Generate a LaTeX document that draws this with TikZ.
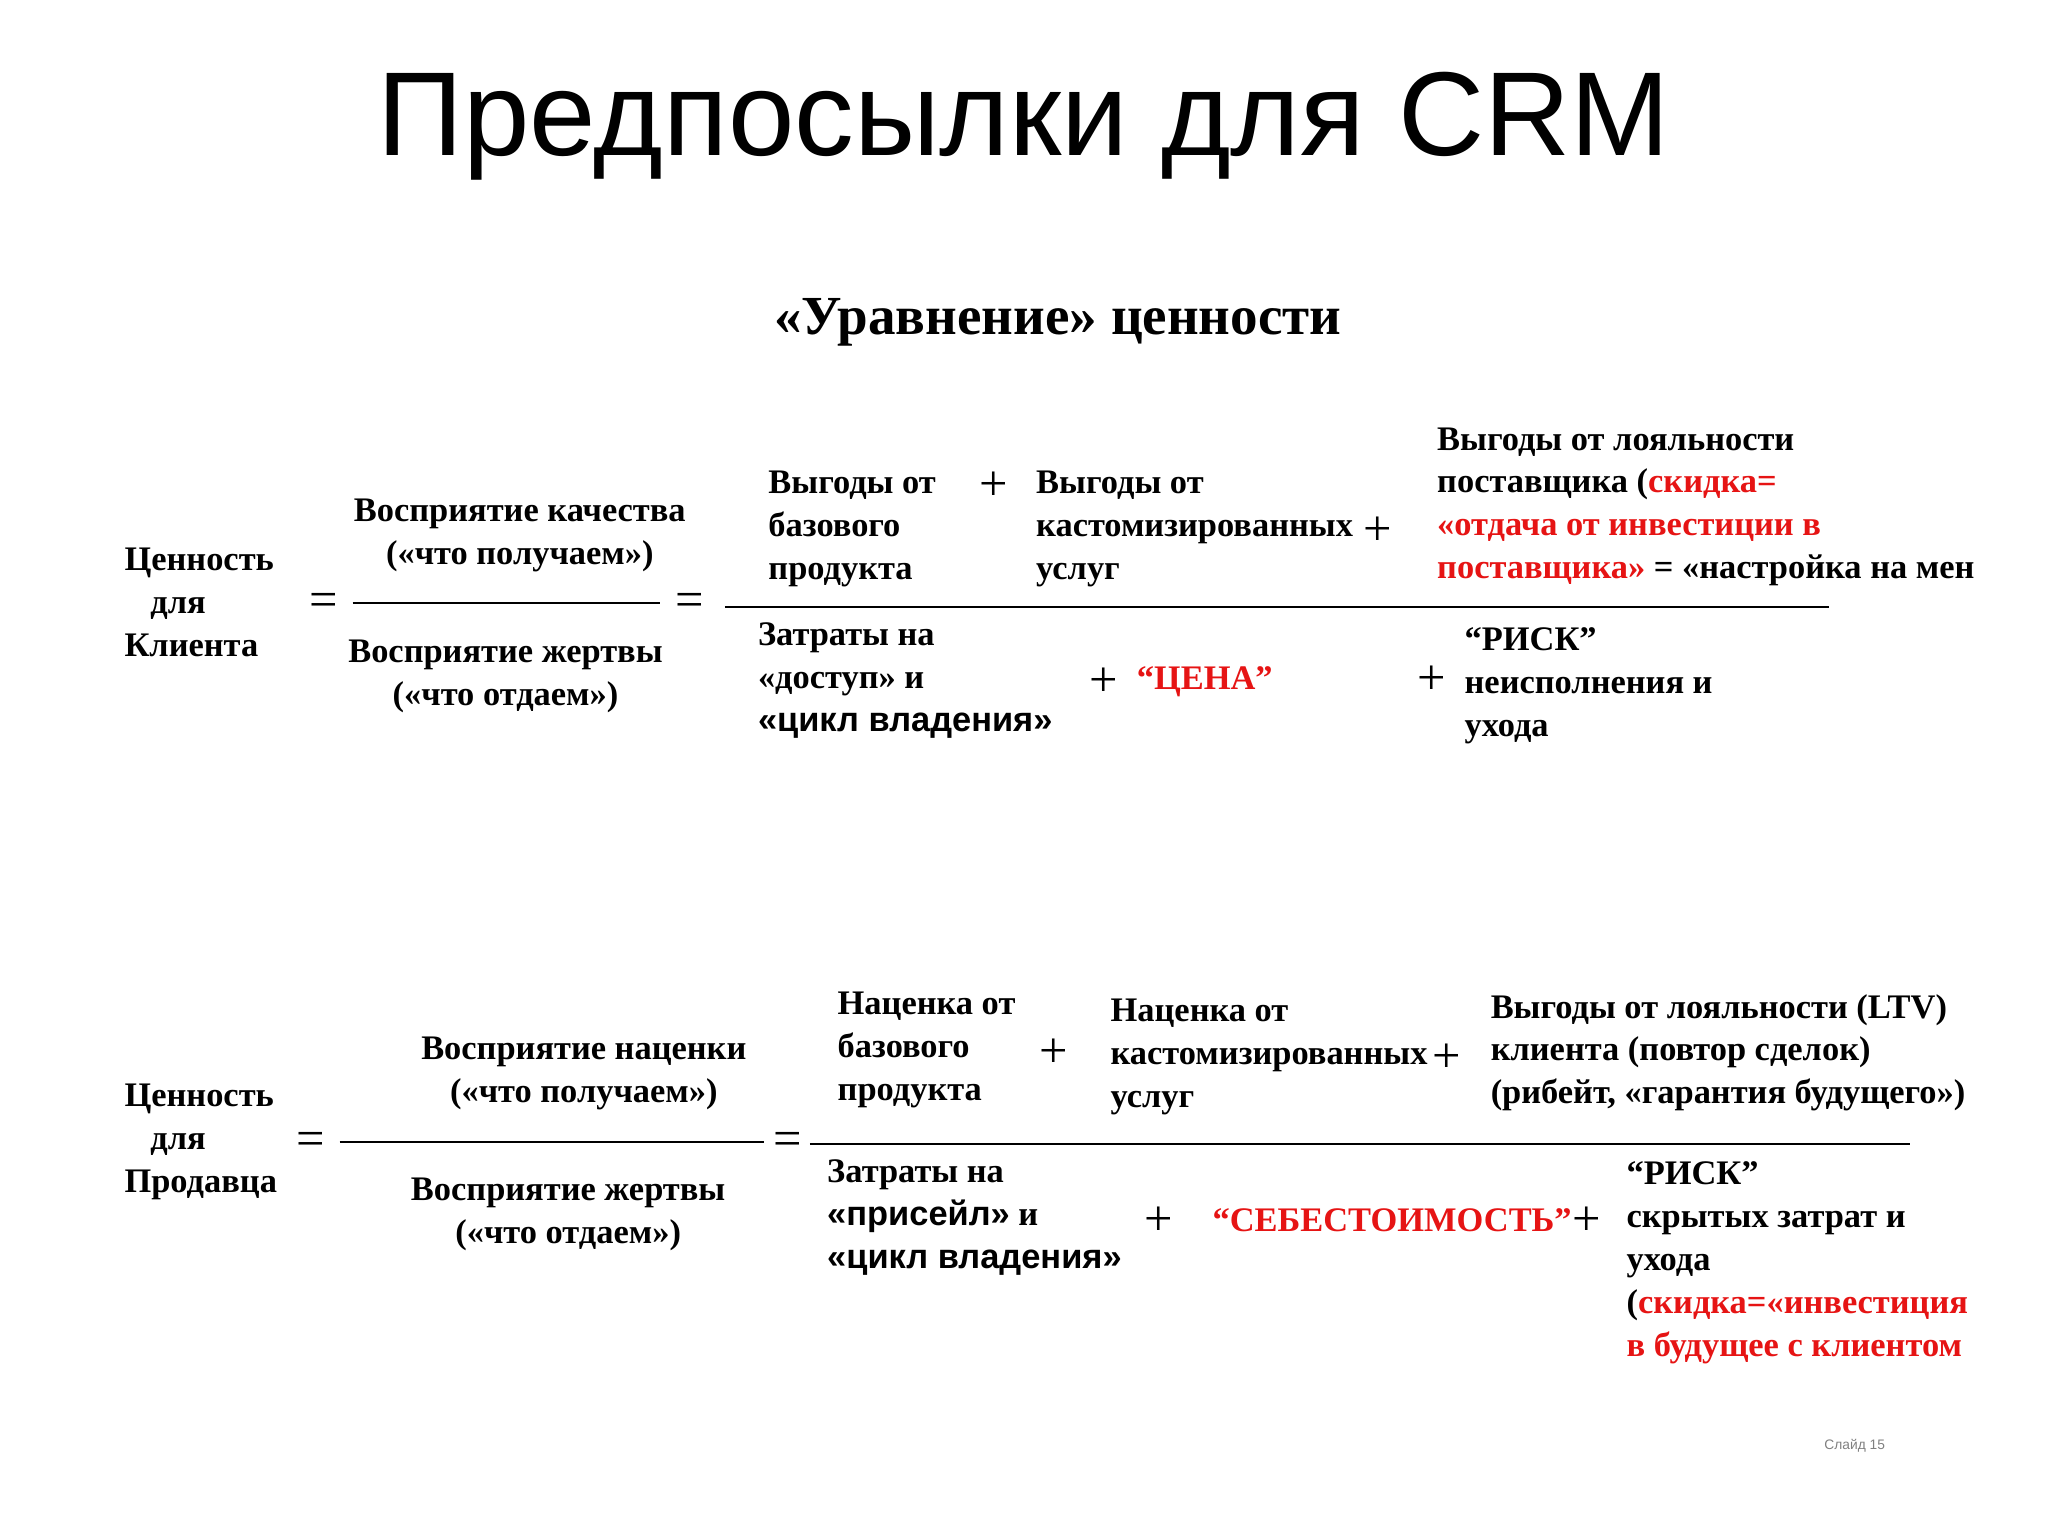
\documentclass[tikz,border=0pt]{standalone}
\usepackage{fontspec}
\setmainfont{Liberation Serif}
\newfontfamily\hsans{Liberation Sans}
\definecolor{rd}{RGB}{230,20,20}
\begin{document}
\begin{tikzpicture}[x=0.02cm,y=-0.02cm,
 txt/.style={inner sep=0pt,align=left,font=\bfseries\fontsize{15}{18.7}\selectfont},
 ctr/.style={inner sep=0pt,align=center,font=\bfseries\fontsize{15}{18.7}\selectfont},
 op/.style={inner sep=0pt,font=\fontsize{22}{22}\selectfont},
 bar/.style={line width=0.9pt}]
\useasboundingbox[fill=white] (0,0) rectangle (1568,1176);
\node[inner sep=0pt,font=\hsans\fontsize{52}{52}\selectfont] (title) at (784,97) {Предпосылки для CRM};
\node[inner sep=0pt,font=\bfseries\fontsize{24}{28}\selectfont] (sub) at (810,247) {«Уравнение» ценности};
% top equation
\node[txt,anchor=west] (v1) at (95,461) {Ценность\\\ \ \ для\\Клиента};
\node[op] (e1) at (248,463) {=};
\node[ctr] (n1) at (398,410) {Восприятие качества\\(«что получаем»)};
\node[ctr] (d1) at (387,518) {Восприятие жертвы\\(«что отдаем»)};
\coordinate (l1a) at (270,462); \coordinate (l1b) at (505,462);
\draw[bar] (l1a) -- (l1b);
\node[op] (e2) at (528,463) {=};
\coordinate (l2a) at (555,465); \coordinate (l2b) at (1400,465);
\draw[bar] (l2a) -- (l2b);
\node[txt,anchor=west] (a1) at (588,405) {Выгоды от\\базового\\продукта};
\node[op] (p1) at (761,372) {+};
\node[txt,anchor=west] (a2) at (793,405) {Выгоды от\\кастомизированных\\услуг};
\node[op] (p2) at (1055,407) {+};
\node[txt,anchor=west] (a3) at (1100,388) {Выгоды от лояльности\\поставщика (\textcolor{rd}{скидка=}\\\textcolor{rd}{«отдача от инвестиции в}\\\textcolor{rd}{поставщика»} = «настройка на мен};
\node[txt,anchor=west] (b1) at (580,521) {Затраты на\\«доступ» и\\{\hsans«цикл владения»}};
\node[op] (p3) at (845,522) {+};
\node[txt,anchor=west,text=rd] (b2) at (870,522) {“ЦЕНА”};
\node[op] (p4) at (1096,521) {+};
\node[txt,anchor=west] (b3) at (1121,525) {“РИСК”\\неисполнения и\\ухода};
% bottom equation
\node[txt,anchor=west] (v2) at (95,874) {Ценность\\\ \ \ для\\Продавца};
\node[op] (e3) at (238,876) {=};
\node[ctr] (n2) at (447,822) {Восприятие наценки\\(«что получаем»)};
\node[ctr] (d2) at (435,930) {Восприятие жертвы\\(«что отдаем»)};
\coordinate (l3a) at (260,874); \coordinate (l3b) at (585,874);
\draw[bar] (l3a) -- (l3b);
\node[op] (e4) at (603,876) {=};
\coordinate (l4a) at (620,876); \coordinate (l4b) at (1462,876);
\draw[bar] (l4a) -- (l4b);
\node[txt,anchor=west] (c1) at (641,804) {Наценка от\\базового\\продукта};
\node[op] (p5) at (807,806) {+};
\node[txt,anchor=west] (c2) at (850,809) {Наценка от\\кастомизированных\\услуг};
\node[op] (p6) at (1108,810) {+};
\node[txt,anchor=west] (c3) at (1141,806) {Выгоды от лояльности (LTV)\\клиента (повтор сделок)\\(рибейт, «гарантия будущего»)};
\node[txt,anchor=west] (f1) at (633,932) {Затраты на\\{\hsans«присейл»} и\\{\hsans«цикл владения»}};
\node[op] (p7) at (887,935) {+};
\node[txt,anchor=west,text=rd] (f2) at (928,934) {“СЕБЕСТОИМОСТЬ”};
\node[op] (p8) at (1215,935) {+};
\node[txt,anchor=west] (f3) at (1245,967) {“РИСК”\\скрытых затрат и\\ухода\\(\textcolor{rd}{скидка=«инвестиция}\\\textcolor{rd}{в будущее с клиентом}};
\node[inner sep=0pt,font=\hsans\fontsize{6}{6}\selectfont,text=gray] (sl) at (1420,1107) {Слайд 15};
\end{tikzpicture}
\end{document}
